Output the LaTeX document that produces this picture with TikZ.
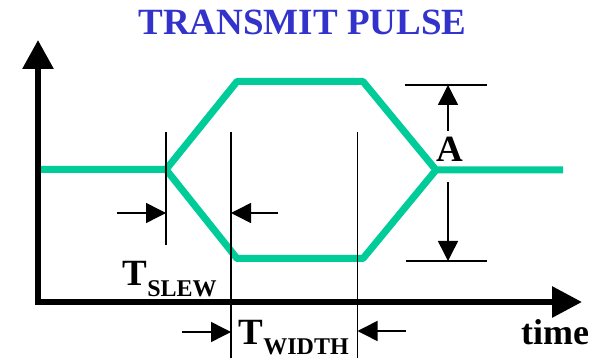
\documentclass[tikz,border=0pt]{standalone}
\usepackage{fontspec}
\setmainfont{Liberation Serif}
\usetikzlibrary{arrows.meta}
\definecolor{pulsegreen}{HTML}{00CC99}
\definecolor{titleblue}{HTML}{3333CC}
\tikzset{
  axisline/.style={line width=6pt, line join=miter},
  pulse/.style={line width=7pt, pulsegreen, line join=bevel},
  thin/.style={line width=1.5pt, black},
  dimarrow/.style={line width=1.5pt, -{Triangle[length=20pt,width=20pt]}},
  lbl/.style={inner sep=0pt, anchor=base west, font=\bfseries},
}
\begin{document}
\begin{tikzpicture}[x=1pt,y=-1pt]
\useasboundingbox (0,0) rectangle (600,358);
% title
\node[inner sep=0pt, anchor=base, text=titleblue, font=\bfseries\fontsize{37}{37}\selectfont] (title) at (302.5,35) {TRANSMIT PULSE};
% axes
\coordinate (ytop) at (38,40);
\coordinate (origin) at (38,302);
\coordinate (xend) at (582,302);
\draw[axisline, {Triangle[length=29pt,width=30pt]}-{Triangle[length=30pt,width=30pt]}] (ytop) -- (origin) -- (xend);
% pulse
\coordinate (p0) at (41,169.5);
\coordinate (lv) at (166,169.5);
\coordinate (tl) at (237,81.5);
\coordinate (tr) at (363,81.5);
\coordinate (rv) at (436,170);
\coordinate (p1) at (563,170);
\coordinate (bl) at (237,258.5);
\coordinate (br) at (363,258.5);
\draw[pulse] (p0) -- (lv) -- (tl) -- (tr) -- (rv) -- (p1);
\draw[pulse] (lv) -- (bl) -- (br) -- (rv);
% vertical marker lines
\coordinate (v1t) at (166,132); \coordinate (v1b) at (166,245);
\coordinate (v2t) at (231,132); \coordinate (v2b) at (231,358);
\coordinate (v3t) at (357.5,132); \coordinate (v3b) at (357.5,358);
\draw[thin] (v1t) -- (v1b);
\draw[thin] (v2t) -- (v2b);
\draw[thin] (v3t) -- (v3b);
% slew arrows
\coordinate (s1) at (117,213); \coordinate (s1t) at (166,213);
\coordinate (s2) at (278,213); \coordinate (s2t) at (231,213);
\draw[dimarrow] (s1) -- (s1t);
\draw[dimarrow] (s2) -- (s2t);
% width arrows
\coordinate (w1) at (182,332); \coordinate (w1t) at (231,332);
\coordinate (w2) at (406,331); \coordinate (w2t) at (357.5,331);
\draw[dimarrow] (w1) -- (w1t);
\draw[dimarrow] (w2) -- (w2t);
% amplitude
\coordinate (at1) at (405,85); \coordinate (at2) at (487,85);
\coordinate (ab1) at (406,261); \coordinate (ab2) at (487,261);
\draw[thin] (at1) -- (at2);
\draw[thin] (ab1) -- (ab2);
\coordinate (au) at (448,131); \coordinate (aut) at (448,85);
\coordinate (ad) at (448,182); \coordinate (adt) at (448,261);
\draw[dimarrow] (au) -- (aut);
\draw[dimarrow] (ad) -- (adt);
\node[inner sep=0pt, anchor=base, font=\bfseries\fontsize{37}{37}\selectfont] (A) at (450,162) {A};
% labels
\node[lbl, font=\bfseries\fontsize{37}{37}\selectfont] (tslew) at (122.5,286) {T\raisebox{-10.5pt}{\fontsize{24}{24}\selectfont SLEW}};
\node[lbl, font=\bfseries\fontsize{37}{37}\selectfont] (twidth) at (238.5,344) {T\raisebox{-10pt}{\fontsize{24}{24}\selectfont WIDTH}};
\node[lbl, font=\bfseries\fontsize{36}{36}\selectfont] (time) at (521,344) {time};
\end{tikzpicture}
\end{document}
